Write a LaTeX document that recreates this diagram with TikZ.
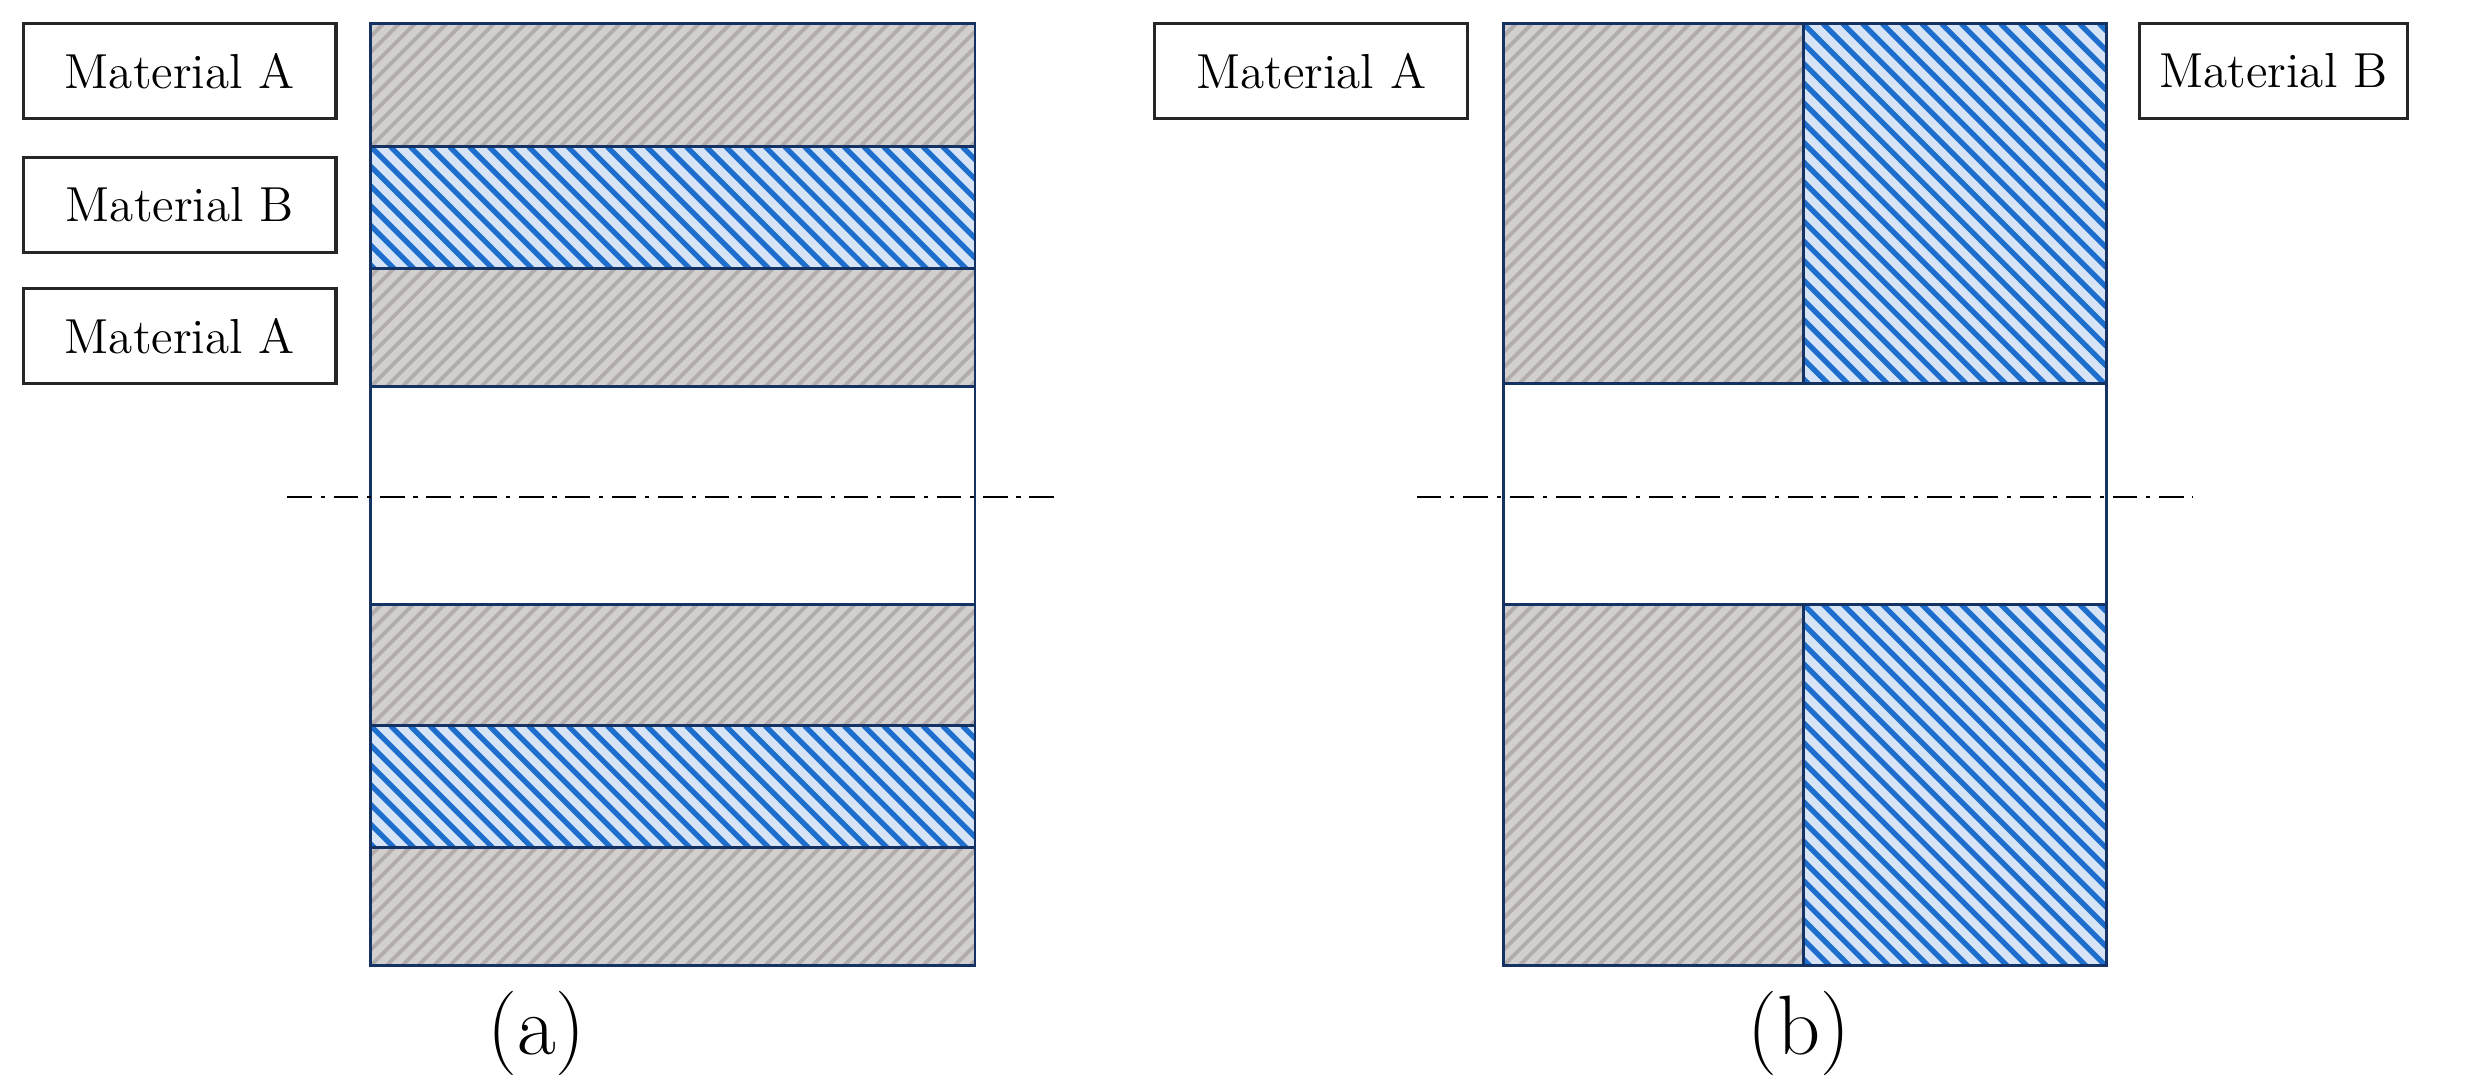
\documentclass[tikz,border=0pt]{standalone}
\begin{document}
\begin{tikzpicture}[x=0.1578mm,y=-0.1578mm,
  lbl/.style={draw=black!85,line width=0.9pt,minimum width=198*0.1578mm,minimum height=60*0.1578mm,inner sep=0pt,font=\fontsize{14}{16}\selectfont},
  frame/.style={draw={rgb,255:red,20;green,50;blue,100},line width=0.8pt},
  axis/.style={line width=0.6pt,dash pattern=on 7pt off 2.5pt on 1.2pt off 2.5pt},
  captxt/.style={font=\fontsize{24}{28}\selectfont}]
\definecolor{gfill}{RGB}{210,207,207}
\definecolor{gline}{RGB}{178,172,172}
\definecolor{bfill}{RGB}{214,228,245}
\definecolor{bline}{RGB}{30,110,205}
\useasboundingbox (0,0) rectangle (1563,688);
\newcommand{\grayhatch}[4]{% x1 y1 x2 y2
  \fill[gfill] (#1,#2) rectangle (#3,#4);
  \begin{scope}
  \clip (#1,#2) rectangle (#3,#4);
  \foreach \k in {-300,-290,...,500}{\draw[gline,line width=1.1pt] (#1+\k,#4) -- ++(400,-400);}
  \end{scope}}
\newcommand{\bluehatch}[4]{%
  \fill[bfill] (#1,#2) rectangle (#3,#4);
  \begin{scope}
  \clip (#1,#2) rectangle (#3,#4);
  \foreach \k in {-300,-287.5,...,500}{\draw[bline,line width=1.5pt] (#1+\k,#2) -- ++(400,400);}
  \end{scope}}
% (a)
\grayhatch{235}{15}{618}{93}
\bluehatch{235}{93}{618}{170}
\grayhatch{235}{170}{618}{245}
\grayhatch{235}{383}{618}{460}
\bluehatch{235}{460}{618}{537}
\grayhatch{235}{537}{618}{612}
\foreach \y in {93,170,245,383,460,537}{\draw[frame] (235,\y) -- (618,\y);}
\draw[frame] (235,15) rectangle (618,612);
\draw[axis] (182,315) -- (672,315);
\node[lbl] (la1) at (114,45) {Material A};
\node[lbl] (lb1) at (114,130) {Material B};
\node[lbl] (la2) at (114,213) {Material A};
\node[captxt] (ca) at (340,655) {(a)};
% (b)
\grayhatch{953}{15}{1143}{243}
\bluehatch{1143}{15}{1335}{243}
\grayhatch{953}{383}{1143}{612}
\bluehatch{1143}{383}{1335}{612}
\draw[frame] (953,243) -- (1335,243) (953,383) -- (1335,383) (1143,15) -- (1143,243) (1143,383) -- (1143,612);
\draw[frame] (953,15) rectangle (1335,612);
\draw[axis] (898,315) -- (1390,315);
\node[lbl] (la3) at (831,45) {Material A};
\node[lbl,minimum width=170*0.1578mm] (lb3) at (1441,45) {Material B};
\node[captxt] (cb) at (1140,655) {(b)};
\end{tikzpicture}
\end{document}
